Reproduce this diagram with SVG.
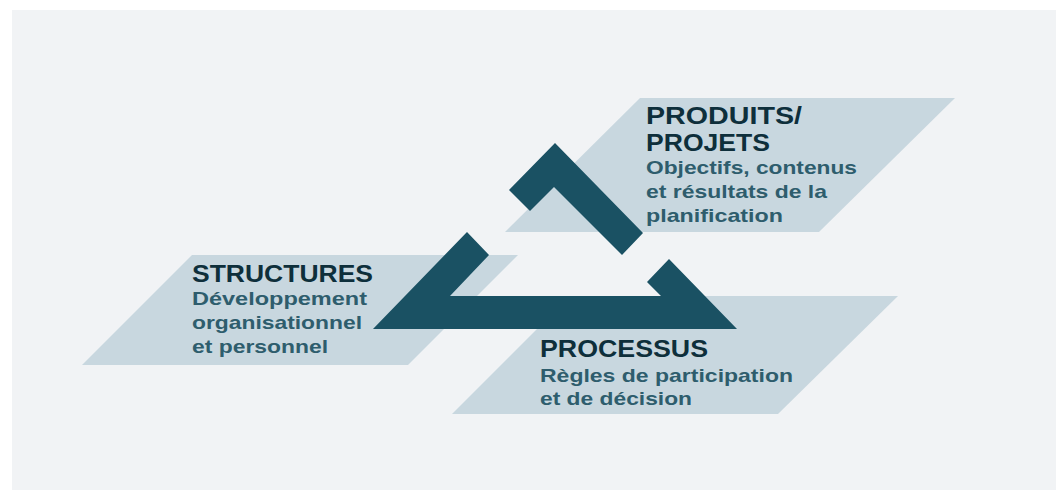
<svg xmlns="http://www.w3.org/2000/svg" width="1061" height="491" viewBox="0 0 1061 491">
  <style>
    .bg { fill: #f1f3f5; }
    .para { fill: #c8d7df; }
    .band { fill: #1a5163; }
    .title { font-family: "Liberation Sans", Arial, sans-serif; font-weight: 700; font-size: 24px; fill: #0e2f3b; }
    .sub { font-family: "Liberation Sans", Arial, sans-serif; font-weight: 700; font-size: 19px; fill: #2e5d6d; }
  </style>
  <rect class="bg" x="12" y="10" width="1044" height="480"/>

  <g id="node-produits">
    <polygon class="para" points="640,98 955,98 819,232 505,232"/>
    <text class="title" x="646" y="124" textLength="156" lengthAdjust="spacingAndGlyphs">PRODUITS/</text>
    <text class="title" x="646" y="151" textLength="124" lengthAdjust="spacingAndGlyphs">PROJETS</text>
    <text class="sub" x="646" y="174" textLength="211" lengthAdjust="spacingAndGlyphs">Objectifs, contenus</text>
    <text class="sub" x="646" y="198" textLength="181" lengthAdjust="spacingAndGlyphs">et résultats de la</text>
    <text class="sub" x="646" y="222" textLength="137" lengthAdjust="spacingAndGlyphs">planification</text>
  </g>

  <g id="node-structures">
    <polygon class="para" points="192,255 518,255 408,365 82,365"/>
    <text class="title" x="192" y="282" textLength="181" lengthAdjust="spacingAndGlyphs">STRUCTURES</text>
    <text class="sub" x="192" y="305" textLength="175" lengthAdjust="spacingAndGlyphs">Développement</text>
    <text class="sub" x="192" y="329" textLength="170" lengthAdjust="spacingAndGlyphs">organisationnel</text>
    <text class="sub" x="192" y="353" textLength="136" lengthAdjust="spacingAndGlyphs">et personnel</text>
  </g>

  <g id="node-processus">
    <polygon class="para" points="570,296 898,296 778,414 452,414"/>
    <text class="title" x="540" y="357" textLength="168" lengthAdjust="spacingAndGlyphs">PROCESSUS</text>
    <text class="sub" x="540" y="382" textLength="253" lengthAdjust="spacingAndGlyphs">Règles de participation</text>
    <text class="sub" x="540" y="405" textLength="152" lengthAdjust="spacingAndGlyphs">et de décision</text>
  </g>

  <g id="connectors">
    <polygon class="band" points="509,190 555,143 643,233 622,255 554,187 530,211"/>
    <polygon class="band" points="467,232 489,255 450,296 661,296 647,282 669,259 737,329 373,329"/>
  </g>
</svg>
